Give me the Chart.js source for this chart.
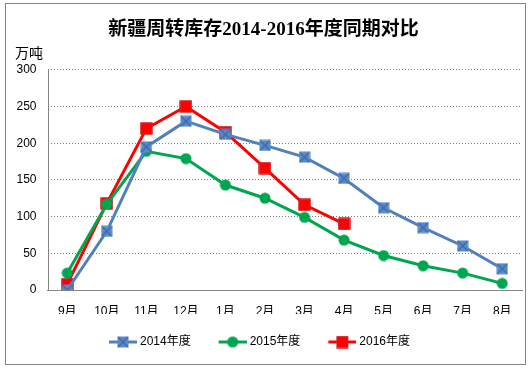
<!DOCTYPE html>
<html>
<head>
<meta charset="utf-8">
<script src="https://cdn.jsdelivr.net/npm/chart.js@4"></script>
<style>
html,body{margin:0;padding:0;background:#fff;}
#wrap{width:530px;height:372px;position:relative;}
</style>
</head>
<body>
<div id="wrap"><canvas id="c" width="530" height="372"></canvas></div>
<script>
const titleText = '新疆周转库存2014-2016年度同期对比';
const unitLabel = '万吨';
const categories = ['9月','10月','11月','12月','1月','2月','3月','4月','5月','6月','7月','8月'];
const seriesNames = ['2014年度','2015年度','2016年度'];
const values2014 = [0, 80, 195, 230, 212, 197, 181, 152, 112, 85, 60, 29];
const values2015 = [23, 117, 189, 179, 143, 125, 99, 68, 47, 33, 23, 9];
const values2016 = [8, 118, 220, 250, 215, 166, 116, 90, null, null, null, null];
const yTicks = [0, 50, 100, 150, 200, 250, 300];

const BLUE = '#4F81BD', GREEN = '#00A550', RED = '#FF0000';

function mk(w, h, fn) {
  const c = document.createElement('canvas');
  c.width = w; c.height = h;
  fn(c.getContext('2d'), w, h);
  return c;
}
function blueMarker(ctx, cx, cy) {
  ctx.fillStyle = '#5B8AC9';
  ctx.fillRect(cx - 5.5, cy - 5.5, 11, 11);
  ctx.strokeStyle = '#3B68A8';
  ctx.lineWidth = 1.3;
  ctx.beginPath();
  ctx.moveTo(cx - 5, cy - 5); ctx.lineTo(cx + 5, cy + 5);
  ctx.moveTo(cx + 5, cy - 5); ctx.lineTo(cx - 5, cy + 5);
  ctx.stroke();
}
function greenMarker(ctx, cx, cy) {
  ctx.fillStyle = GREEN;
  ctx.beginPath(); ctx.arc(cx, cy, 5.5, 0, Math.PI * 2); ctx.fill();
}
function redMarker(ctx, cx, cy) {
  ctx.fillStyle = RED;
  ctx.fillRect(cx - 6, cy - 6, 12, 12);
  ctx.strokeStyle = '#C0282D';
  ctx.lineWidth = 1;
  ctx.strokeRect(cx - 5.5, cy - 5.5, 11, 11);
}
const ptBlue = mk(12, 12, (c) => blueMarker(c, 6, 6));
const ptGreen = mk(12, 12, (c) => greenMarker(c, 6, 6));
const ptRed = mk(13, 13, (c) => redMarker(c, 6.5, 6.5));
// legend icon: line with marker, placed on the right part of a wider transparent canvas
function legendImg(color, markerFn) {
  return mk(37, 13, (c, w, h) => {
    c.strokeStyle = color; c.lineWidth = 3;
    c.beginPath(); c.moveTo(9, 6.5); c.lineTo(37, 6.5); c.stroke();
    markerFn(c, 23, 6.5);
  });
}
const lgImgs = [legendImg(BLUE, blueMarker), legendImg(GREEN, greenMarker), legendImg(RED, redMarker)];

const decor = {
  id: 'decor',
  afterLayout(chart) {
    if (chart.legend) { chart.legend.left -= 7; chart.legend.right -= 7; }
  },
  beforeDatasetsDraw(chart) {
    const ctx = chart.ctx, a = chart.chartArea;
    ctx.save();
    ctx.strokeStyle = '#868686';
    ctx.lineWidth = 1;
    const x = Math.round(a.left) + 0.5;
    ctx.beginPath(); ctx.moveTo(x, a.top); ctx.lineTo(x, a.bottom); ctx.stroke();
    ctx.restore();
  },
  afterDraw(chart) {
    const ctx = chart.ctx;
    ctx.save();
    ctx.strokeStyle = '#868686';
    ctx.lineWidth = 1;
    ctx.strokeRect(5.5, 3.5, 520, 361);
    ctx.fillStyle = '#000';
    ctx.font = '14px "Noto Sans CJK SC"';
    ctx.textAlign = 'left';
    ctx.textBaseline = 'middle';
    ctx.fillText(unitLabel, 15, 53);
    ctx.restore();
  }
};

new Chart(document.getElementById('c'), {
  type: 'line',
  data: {
    labels: categories,
    datasets: [
      { label: seriesNames[0], data: values2014, borderColor: BLUE, backgroundColor: BLUE, borderWidth: 3, pointStyle: ptBlue, tension: 0 },
      { label: seriesNames[1], data: values2015, borderColor: GREEN, backgroundColor: GREEN, borderWidth: 3, pointStyle: ptGreen, tension: 0 },
      { label: seriesNames[2], data: values2016, borderColor: RED, backgroundColor: RED, borderWidth: 3, pointStyle: ptRed, tension: 0 }
    ]
  },
  options: {
    responsive: false,
    animation: false,
    events: [],
    layout: { padding: { left: 5, right: 8, top: 0, bottom: 14 } },
    plugins: {
      title: {
        display: true,
        text: titleText,
        color: '#000',
        font: { family: '"Liberation Serif", "Noto Sans CJK SC"', size: 19, weight: 'bold' },
        padding: { top: 19, bottom: 28 }
      },
      legend: {
        position: 'bottom',
        labels: {
          usePointStyle: true,
          pointStyleWidth: 31,
          padding: 22,
          color: '#000',
          font: { family: '"Liberation Sans", "Noto Sans CJK SC"', size: 12 },
          generateLabels(chart) {
            return chart.data.datasets.map((ds, i) => ({
              text: ds.label, pointStyle: lgImgs[i], fillStyle: ds.borderColor,
              strokeStyle: ds.borderColor, lineWidth: 0, datasetIndex: i, fontColor: '#000'
            }));
          }
        }
      },
      tooltip: { enabled: false }
    },
    scales: {
      x: {
        offset: true,
        grid: { display: false, drawTicks: false },
        border: { display: true, color: '#868686', width: 1 },
        ticks: { color: '#000', padding: 14, maxRotation: 0, font: { family: '"Liberation Sans", "Noto Sans CJK SC"', size: 12 } },
        afterFit(s) { s.height = 24; }
      },
      y: {
        min: 0, max: 300,
        afterBuildTicks(s) { s.ticks = yTicks.map(v => ({ value: v })); },
        grid: { color: '#808080', lineWidth: 1, drawTicks: false },
        border: { display: false, dash: [1, 2] },
        ticks: { color: '#000', padding: 11, font: { family: '"Liberation Sans"', size: 12 } },
        afterFit(s) { s.width = 42.5; }
      }
    }
  },
  plugins: [decor]
});
</script>
</body>
</html>
